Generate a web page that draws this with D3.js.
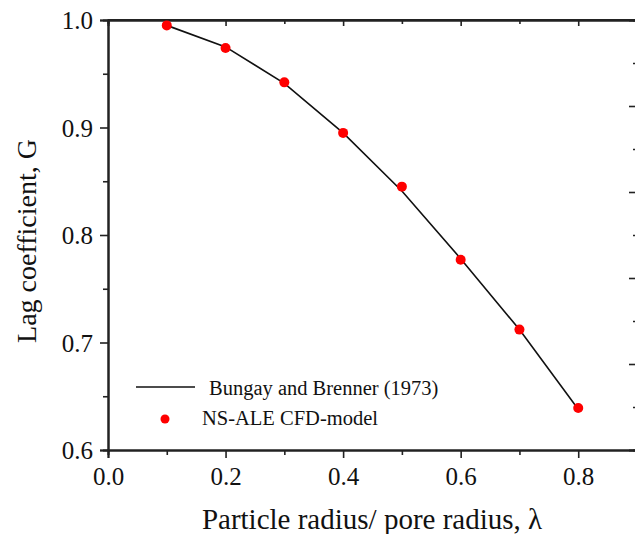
<!DOCTYPE html>
<html>
<head>
<meta charset="utf-8">
<script src="https://cdn.jsdelivr.net/npm/d3@7"></script>
<style>
  body { margin: 0; background: #fff; }
</style>
</head>
<body>
<div id="graph"></div>
<script>
// data
var lambda = [0.1, 0.2, 0.3, 0.4, 0.5, 0.6, 0.7, 0.8];
var bungayG = [0.995, 0.975, 0.941, 0.895, 0.841, 0.778, 0.712, 0.638];
var cfdG = [0.995, 0.974, 0.942, 0.895, 0.845, 0.777, 0.712, 0.639];
var xTicks = [0.0, 0.2, 0.4, 0.6, 0.8];
var yTicks = [0.6, 0.7, 0.8, 0.9, 1.0];
var legendNames = ["Bungay and Brenner (1973)", "NS-ALE CFD-model"];

var W = 635, H = 534;
var serif = "'Liberation Serif', 'Times New Roman', serif";

var svg = d3.select("#graph")
  .append("svg")
    .attr("width", W)
    .attr("height", H)

var x = d3.scaleLinear().domain([0, 0.9]).range([108, 637]);
var y = d3.scaleLinear().domain([0.6, 1.0]).range([450, 20]);
// right axis of the frame (its labels are cut off in the picture)
var y2 = d3.scaleLinear().domain([0, 5]).range([450, 20]);

var axisCol = "#222";

// minor ticks
svg.append("g")
  .attr("transform", "translate(0,450)")
  .call(d3.axisBottom(x).tickValues([0.1, 0.3, 0.5, 0.7]).tickSize(5).tickFormat(""));
svg.append("g")
  .attr("transform", "translate(108,0)")
  .call(d3.axisLeft(y).tickValues([0.65, 0.75, 0.85, 0.95]).tickSize(5).tickFormat(""));
svg.append("g")
  .attr("transform", "translate(0,20)")
  .call(d3.axisBottom(x).tickValues([0.1, 0.3, 0.5, 0.7]).tickSize(4).tickFormat(""));
svg.append("g")
  .attr("transform", "translate(0,20)")
  .call(d3.axisBottom(x).tickValues([0.2, 0.4, 0.6, 0.8]).tickSize(6).tickFormat(""));
svg.append("g")
  .attr("transform", "translate(637,0)")
  .call(d3.axisLeft(y2).tickValues([0.5, 1.5, 2.5, 3.5, 4.5]).tickSize(4).tickFormat(""));
svg.append("g")
  .attr("transform", "translate(637,0)")
  .call(d3.axisLeft(y2).tickValues([1, 2, 3, 4]).tickSize(8).tickFormat(""));

// major axes
var xAxis = svg.append("g")
  .attr("transform", "translate(0,450)")
  .call(d3.axisBottom(x).tickValues(xTicks).tickSize(8).tickFormat(d3.format(".1f")));
var yAxis = svg.append("g")
  .attr("transform", "translate(108,0)")
  .call(d3.axisLeft(y).tickValues(yTicks).tickSize(8).tickPadding(7).tickFormat(d3.format(".1f")));

svg.selectAll(".domain").attr("stroke", axisCol).attr("stroke-width", 2);
svg.selectAll(".tick line").attr("stroke", axisCol).attr("stroke-width", 1.6);
svg.selectAll("g").attr("font-family", serif).attr("font-size", 25);
svg.selectAll(".tick text").attr("fill", "#111");
yAxis.selectAll(".tick text").attr("dy", "0.34em");
xAxis.selectAll(".tick text").attr("y", 35).attr("dy", 0);

// top frame line
svg.append("line")
  .attr("x1", x(0)).attr("x2", W)
  .attr("y1", y(1.0)).attr("y2", y(1.0))
  .attr("stroke", axisCol).attr("stroke-width", 2);

// Bungay and Brenner curve
var line = d3.line()
  .x(function(d, i) { return x(lambda[i]); })
  .y(function(d) { return y(d); });
svg.append("path")
  .datum(bungayG)
  .attr("d", line)
  .attr("fill", "none")
  .attr("stroke", "#111")
  .attr("stroke-width", 1.6);

// CFD points
svg.append("g")
  .selectAll("circle")
  .data(cfdG)
  .enter()
  .append("circle")
    .attr("cx", function(d, i) { return x(lambda[i]); })
    .attr("cy", function(d) { return y(d); })
    .attr("r", 5)
    .attr("fill", "#f00");

// legend
var lg = svg.append("g")
  .attr("font-family", serif)
  .attr("font-size", 20.5)
  .attr("fill", "#111");
lg.append("line")
  .attr("x1", 136).attr("x2", 195)
  .attr("y1", 387).attr("y2", 387)
  .attr("stroke", "#111").attr("stroke-width", 1.6);
lg.append("text")
  .attr("x", 209).attr("y", 395)
  .text(legendNames[0]);
lg.append("circle")
  .attr("cx", 165).attr("cy", 419)
  .attr("r", 4.5).attr("fill", "#f00");
lg.append("text")
  .attr("x", 202).attr("y", 425)
  .text(legendNames[1]);

// axis titles
svg.append("text")
  .attr("x", 372).attr("y", 529)
  .attr("text-anchor", "middle")
  .attr("font-family", serif)
  .attr("font-size", 29)
  .attr("fill", "#111")
  .text("Particle radius/ pore radius, \u03bb");
svg.append("text")
  .attr("transform", "translate(36,241) rotate(-90)")
  .attr("text-anchor", "middle")
  .attr("font-family", serif)
  .attr("font-size", 28)
  .attr("fill", "#111")
  .text("Lag coefficient, G");
</script>
</body>
</html>
